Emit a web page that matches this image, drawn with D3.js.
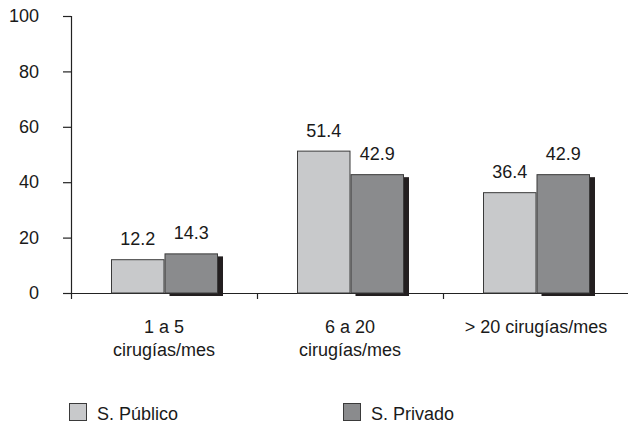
<!DOCTYPE html>
<html>
<head>
<meta charset="utf-8">
<script src="https://cdn.jsdelivr.net/npm/d3@7"></script>
<style>
  html, body { margin: 0; padding: 0; background: #ffffff; }
  svg { display: block; }
  text { font-family: "Liberation Sans", Arial, sans-serif; fill: #1a1a1a; }
</style>
</head>
<body>
<svg id="chart" width="628" height="423"></svg>
<script>
// Surgical volume groups and share (%) by sector
const categories = [["1 a 5", "cirugías/mes"], ["6 a 20", "cirugías/mes"], ["> 20 cirugías/mes"]];
const seriesNames = ["S. Público", "S. Privado"];
const publico = [12.2, 51.4, 36.4];
const privado = [14.3, 42.9, 42.9];
const yTicks = [0, 20, 40, 60, 80, 100];

const colors = ["#c8c9cb", "#8a8b8d"];
const shadowColor = "#231f20";
const strokeColor = "#3a3a3a";

const svg = d3.select("#chart");
const fontSize = 18;

const y = d3.scaleLinear().domain([0, 100]).range([293, 16]);
const x0 = d3.scaleBand().domain(d3.range(categories.length)).range([71, 629]).padding(0);
const x1 = d3.scaleBand().domain(d3.range(seriesNames.length)).range([40, 147]).padding(0);

// y axis
const yAxis = svg.append("g")
  .attr("transform", "translate(71,0)")
  .call(d3.axisLeft(y).tickValues(yTicks).tickSize(8).tickPadding(24).tickSizeOuter(0));
yAxis.select(".domain").attr("stroke", "#222").attr("stroke-width", 1.2)
  .attr("d", `M0.5,${y(100)}V${y(0) + 6}`);
yAxis.selectAll(".tick line").attr("stroke", "#222").attr("stroke-width", 1.2);
yAxis.selectAll(".tick text")
  .style("font-family", "'Liberation Sans', Arial, sans-serif")
  .style("font-size", fontSize + "px").attr("fill", "#1a1a1a");

// x axis baseline with group separators
const xAxis = svg.append("g");
xAxis.append("line")
  .attr("x1", 63).attr("x2", 628)
  .attr("y1", y(0) + 0.5).attr("y2", y(0) + 0.5)
  .attr("stroke", "#222").attr("stroke-width", 1.2);
const boundaries = categories.map((_, i) => x0(i)).concat([x0(categories.length - 1) + x0.bandwidth()]);
xAxis.selectAll("line.sep")
  .data(boundaries.slice(1, -1))
  .join("line")
  .attr("class", "sep")
  .attr("x1", d => d + 0.5).attr("x2", d => d + 0.5)
  .attr("y1", y(0)).attr("y2", y(0) + 6)
  .attr("stroke", "#222").attr("stroke-width", 1.2);

// bars
const seriesData = [publico, privado];
const groups = svg.append("g").selectAll("g")
  .data(categories.map((c, i) => i))
  .join("g")
  .attr("transform", i => `translate(${x0(i)},0)`);

// shadow behind the private-sector bars
groups.append("rect")
  .attr("x", x1(1) + 5)
  .attr("y", i => y(privado[i]) + 3)
  .attr("width", x1.bandwidth())
  .attr("height", i => y(0) - y(privado[i]))
  .attr("fill", shadowColor);

groups.selectAll("rect.bar")
  .data(i => seriesData.map((s, k) => ({ k, v: s[i] })))
  .join("rect")
  .attr("class", "bar")
  .attr("x", d => x1(d.k) + 0.5)
  .attr("y", d => y(d.v) + 0.5)
  .attr("width", x1.bandwidth() - 1)
  .attr("height", d => y(0) - y(d.v) - 0.5)
  .attr("fill", d => colors[d.k])
  .attr("stroke", strokeColor)
  .attr("stroke-width", 1);

// value labels
groups.selectAll("text.val")
  .data(i => seriesData.map((s, k) => ({ k, v: s[i] })))
  .join("text")
  .attr("class", "val")
  .attr("x", d => x1(d.k) + x1.bandwidth() / 2)
  .attr("y", d => y(d.v) - 14)
  .attr("text-anchor", "middle")
  .style("font-size", fontSize + "px")
  .text(d => d.v.toFixed(1));

// category labels
const catLabels = svg.append("g").selectAll("text")
  .data(categories)
  .join("text")
  .attr("x", (d, i) => x0(i) + x0.bandwidth() / 2)
  .attr("y", 333)
  .attr("text-anchor", "middle")
  .style("font-size", fontSize + "px");
catLabels.selectAll("tspan")
  .data(d => d)
  .join("tspan")
  .attr("x", function () { return this.parentNode.getAttribute("x"); })
  .attr("dy", (d, j) => j === 0 ? 0 : 23)
  .text(d => d);

// legend
const legendX = [69, 343];
const legend = svg.append("g").selectAll("g")
  .data(seriesNames)
  .join("g")
  .attr("transform", (d, i) => `translate(${legendX[i]},403)`);
legend.append("rect")
  .attr("x", 0.5).attr("y", 0.5)
  .attr("width", 17).attr("height", 17)
  .attr("fill", (d, i) => colors[i])
  .attr("stroke", strokeColor).attr("stroke-width", 1);
legend.append("text")
  .attr("x", 28).attr("y", 17)
  .style("font-size", fontSize + "px")
  .text(d => d);
</script>
</body>
</html>
